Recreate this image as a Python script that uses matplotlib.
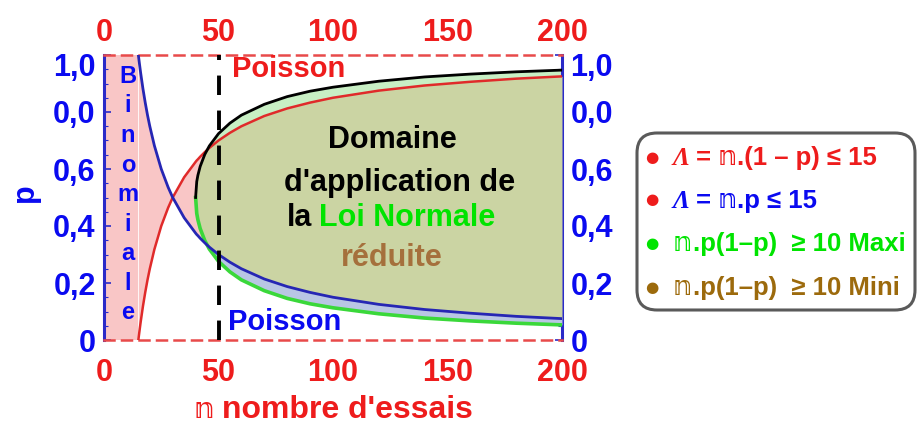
import numpy as np
import matplotlib
matplotlib.use("Agg")
import matplotlib.pyplot as plt
from matplotlib.patches import FancyBboxPatch
import matplotlib.transforms as mtransforms

# ---------------- data ----------------
n_rb = [15, 15.5, 16, 17, 18, 19, 20, 22, 25, 28, 30, 35, 40, 40.5, 41, 42, 44, 46,
        50, 55, 60, 70, 80, 90, 100, 120, 140, 160, 180, 200]
p_blue = [1.0, 0.968, 0.9375, 0.882, 0.833, 0.789, 0.75, 0.682, 0.6, 0.536, 0.5, 0.429,
          0.375, 0.370, 0.366, 0.357, 0.341, 0.326, 0.3, 0.273, 0.25, 0.214, 0.1875,
          0.167, 0.15, 0.125, 0.107, 0.094, 0.083, 0.075]
p_red = [0.0, 0.032, 0.0625, 0.118, 0.167, 0.211, 0.25, 0.318, 0.4, 0.464, 0.5, 0.571,
         0.625, 0.630, 0.634, 0.643, 0.659, 0.674, 0.7, 0.727, 0.75, 0.786, 0.8125,
         0.833, 0.85, 0.875, 0.893, 0.906, 0.917, 0.925]
n_g = [40, 40.5, 41, 42, 44, 46, 50, 55, 60, 70, 80, 90, 100, 120, 140, 160, 180, 200]
p_green_up = [0.5, 0.556, 0.578, 0.609, 0.651, 0.681, 0.724, 0.761, 0.789, 0.827, 0.854,
              0.873, 0.887, 0.908, 0.923, 0.933, 0.941, 0.947]
p_green_lo = [0.5, 0.444, 0.422, 0.391, 0.349, 0.319, 0.276, 0.239, 0.211, 0.173, 0.146,
              0.127, 0.113, 0.092, 0.077, 0.067, 0.059, 0.053]
binom_n = [0, 15]
n_threshold = 50
x_ticks = [0, 50, 100, 150, 200]
x_ticklabels = ["0", "50", "100", "150", "200"]
y_ticks = [0, 0.2, 0.4, 0.6, 0.8, 1.0]
y_ticklabels = ["0", "0,2", "0,4", "0,6", "0,0", "1,0"]

# ---------------- style ----------------
plt.rcParams['font.family'] = ['Liberation Sans', 'DejaVu Sans']
plt.rcParams['font.weight'] = 'bold'
RED = '#ee1c1c'
BLUE_T = '#0a0af0'
BLUE_L = '#2626b4'
GREEN_T = '#00e400'
GREEN_L = '#3ad83a'
BROWN = '#9c6a0c'
BROWN2 = '#a5703c'

W, H = 917, 426
fig = plt.figure(figsize=(W / 100, H / 100), dpi=100)
ax = fig.add_axes([104 / W, 1 - 340 / H, 458 / W, 285 / H])

nr = np.array(n_rb); pb = np.array(p_blue); pr = np.array(p_red)
ng = np.array(n_g); gu = np.array(p_green_up); gl = np.array(p_green_lo)
idx = np.searchsorted(nr, ng)
pb_g = pb[idx]; pr_g = pr[idx]

# fills
ax.fill_between(binom_n, 0, 1, color='#f9c6c6', lw=0, zorder=1)
ax.fill_between(nr, pr, pb, color='#f9c6c6', lw=0, zorder=1)
ax.fill_between(ng, gl, gu, color='#c8efc4', lw=0, zorder=2)
ax.fill_between(ng, gl, pb_g, where=pb_g > gl, color='#b9c6e4', lw=0, zorder=3,
                interpolate=True)
top = np.minimum(pr_g, gu); bot = np.maximum(pb_g, gl)
ax.fill_between(ng, bot, top, where=top >= bot, color='#cbd4a3', lw=0, zorder=4,
                interpolate=True)

# curves
ax.plot(nr, pr, color='#e02a2a', lw=1.8, zorder=6)
ax.plot(nr, pb, color=BLUE_L, lw=2.0, zorder=6)
ax.plot(ng, gl, color=GREEN_L, lw=2.6, zorder=5)
ax.plot(ng, gu, color='black', lw=2.0, zorder=7)
ax.axvline(n_threshold, color='black', lw=2.8, dashes=(5, 4), zorder=8)

ax.set_xlim(0, 200)
ax.set_ylim(0, 1)

# spines
for s in ['left', 'right']:
    ax.spines[s].set_color('#2a2ac8')
    ax.spines[s].set_linewidth(2.2)
for s in ['top', 'bottom']:
    ax.spines[s].set_color('#e84a4a')
    ax.spines[s].set_linewidth(1.8)
    ax.spines[s].set_linestyle((0, (4, 3)))

ax.set_xticks(x_ticks)
ax.set_xticklabels(x_ticklabels)
ax.set_yticks(y_ticks)
ax.set_yticklabels(y_ticklabels)
ax.set_yticks(np.arange(0, 1.001, 0.05), minor=True)
ax.tick_params(axis='x', length=0, labeltop=True, labelbottom=True, labelsize=22,
               labelcolor=RED, pad=5)
ax.tick_params(axis='y', which='major', direction='in', length=5, width=1.2,
               color='#2a2ac8', left=True, right=True, labelleft=True, labelright=True,
               labelsize=22, labelcolor=BLUE_T, pad=6)
ax.tick_params(axis='y', which='minor', direction='in', length=3, width=0.8,
               color='#2a2ac8', left=True, right=True)
for lab in ax.get_xticklabels() + ax.get_yticklabels():
    lab.set_fontweight('bold')
# shift the "1,0" labels slightly down like the reference
off = mtransforms.ScaledTranslation(0, -7 / 72, fig.dpi_scale_trans)
for t in ax.yaxis.get_major_ticks()[-1:]:
    t.label1.set_transform(t.label1.get_transform() + off)
    t.label2.set_transform(t.label2.get_transform() + off)
# bottom x labels sit a little lower in the reference
offb = mtransforms.ScaledTranslation(0, -8 / 72, fig.dpi_scale_trans)
for t in ax.xaxis.get_major_ticks():
    t.label1.set_transform(t.label1.get_transform() + offb)

# in-plot texts
ax.text(80.5, 0.952, "Poisson", color=RED, fontsize=21, fontweight='bold',
        ha='center', va='center', zorder=10)
ax.text(79, 0.063, "Poisson", color=BLUE_T, fontsize=21, fontweight='bold',
        ha='center', va='center', zorder=10)
letters = list("Binomiale")
ys = np.linspace(0.925, 0.095, len(letters))
for ch, yy in zip(letters, ys):
    ax.text(10.5, yy, ch, color=BLUE_T, fontsize=17, fontweight='bold',
            ha='center', va='center', zorder=10)

renderer = fig.canvas.get_renderer()


def pieces(xpx, ybase, parts, align='left', **common):
    ts = []
    cur = xpx
    last_gap = 0
    for s, kw, gap in parts:
        props = dict(common)
        props.update(kw)
        t = fig.text(cur / W, 1 - ybase / H, s, ha='left', va='baseline', **props)
        w = t.get_window_extent(renderer).width
        ts.append((t, cur))
        cur += w + gap
        last_gap = gap
    if align == 'center':
        total = cur - last_gap - xpx
        for t, c in ts:
            t.set_x((c - total / 2) / W)
    return ts


fig.text(392 / W, 1 - 140 / H, "Domaine", fontsize=22, fontweight='bold',
         color='black', ha='center', va='center', zorder=10)
fig.text(400 / W, 1 - 183 / H, "d'application de", fontsize=22, fontweight='bold',
         color='black', ha='center', va='center', zorder=10)
pieces(391, 226, [("la", dict(color='black'), 7),
                  ("Loi Normale", dict(color=GREEN_T), 0)], align='center',
       fontsize=22, fontweight='bold')
fig.text(392 / W, 1 - 258 / H, "réduite", fontsize=22, fontweight='bold',
         color=BROWN2, ha='center', va='center', zorder=10)

# axis labels
fig.text(25 / W, 1 - 193 / H, "p", fontsize=22, fontweight='bold', color=BLUE_T,
         rotation=90, ha='center', va='center')
pieces(333, 418, [("𝕟", dict(family=['DejaVu Sans'], fontweight='normal', fontsize=20), 8),
                  ("nombre d'essais", dict(), 0)], align='center',
       fontsize=23, fontweight='bold', color=RED)

# legend box
box = FancyBboxPatch((637, H - 310), 278, 177,
                     boxstyle="round,pad=0,rounding_size=20",
                     transform=None, facecolor='white', edgecolor='#5a5a5a', lw=2.2)
fig.add_artist(box)

lam = dict(family=['Liberation Serif', 'DejaVu Serif'], fontstyle='italic',
           fontweight='bold')
dbl = dict(family=['DejaVu Sans'], fontweight='normal')
leg_rows = [
    (165, RED, RED, [("Λ", lam, 6), ("=", {}, 6), ("𝕟", dbl, 1), (".(1 – p) ≤ 15", {}, 0)]),
    (208, RED, BLUE_T, [("Λ", lam, 6), ("=", {}, 6), ("𝕟", dbl, 1), (".p ≤ 15", {}, 0)]),
    (251, GREEN_T, GREEN_T, [("𝕟", dbl, 1), (".p(1–p)  ≥ 10 Maxi", {}, 0)]),
    (295, BROWN, BROWN, [("𝕟", dbl, 1), (".p(1–p)  ≥ 10 Mini", {}, 0)]),
]
for yb, bcol, tcol, parts in leg_rows:
    fig.text(652 / W, 1 - (yb - 8) / H, "●", color=bcol, fontsize=11,
             ha='center', va='center', family=['DejaVu Sans'])
    pieces(673, yb, parts, fontsize=18.5, fontweight='bold', color=tcol)

fig.savefig("out.png", dpi=100)
